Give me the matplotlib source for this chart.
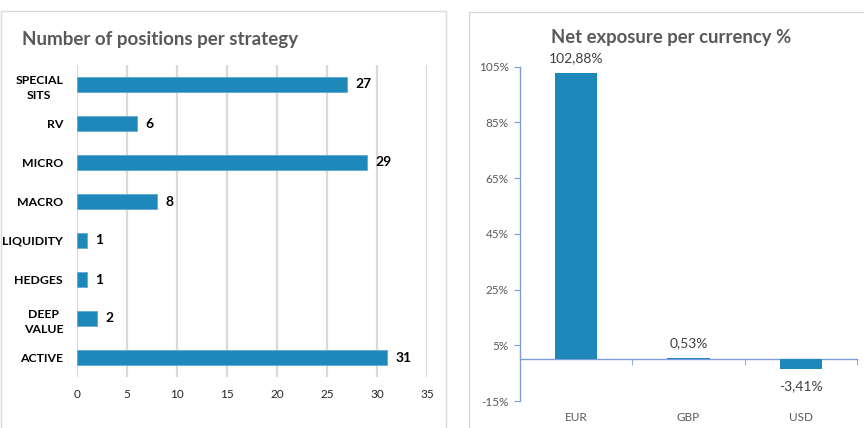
import matplotlib
matplotlib.use("Agg")
import matplotlib.pyplot as plt
from matplotlib.patches import Rectangle

plt.rcParams['font.family'] = ['Lato', 'DejaVu Sans']

# ---- data ----
strategies = ["ACTIVE", "DEEP\nVALUE", "HEDGES", "LIQUIDITY", "MACRO", "MICRO", "RV", "SPECIAL\nSITS"]
positions = [31, 2, 1, 1, 8, 29, 6, 27]
x_ticks_left = [0, 5, 10, 15, 20, 25, 30, 35]

currencies = ["EUR", "GBP", "USD"]
exposure = [102.88, 0.53, -3.41]
y_ticks_right = [-15, 5, 25, 45, 65, 85, 105]

BAR = "#1F88BA"
W, H = 864, 428
fig = plt.figure(figsize=(W / 100, H / 100), dpi=100)

# panel borders
fig.patches.append(Rectangle((1 / W, -0.01), 445 / W, 1 - 11 / H + 0.01, transform=fig.transFigure,
                             fill=False, edgecolor="#D9D9D9", lw=1))
fig.patches.append(Rectangle((469 / W, -0.01), 400 / W, 1 - 12 / H + 0.01, transform=fig.transFigure,
                             fill=False, edgecolor="#D9D9D9", lw=1))

# ---- left chart ----
ax1 = fig.add_axes([77 / W, 1 - 377 / H, 350 / W, 312 / H])
ypos = list(range(len(strategies)))
ax1.barh(ypos, positions, height=0.36, color=BAR, edgecolor="#5FAAD3", linewidth=0.6, zorder=3)
ax1.set_xlim(0, 35)
ax1.set_ylim(-0.5, len(strategies) - 0.5)
ax1.set_xticks(x_ticks_left)
ax1.set_yticks(ypos, labels=strategies)
for lab in ax1.get_yticklabels():
    lab.set_multialignment("center")
    lab.set_fontweight("bold")
    lab.set_linespacing(1.5)
ax1.tick_params(axis="y", length=0, pad=10, labelsize=8.8, labelcolor="#000000")
ax1.tick_params(axis="x", length=0, pad=9, labelsize=8.5, labelcolor="#262626")
for s in ax1.spines.values():
    s.set_visible(False)
ax1.grid(axis="x", color="#D9D9D9", lw=1.6, zorder=0)
ax1.set_axisbelow(True)
for y, v in zip(ypos, positions):
    ax1.annotate(str(v), (v, y), xytext=(6, 0), textcoords="offset points",
                 ha="left", va="center", fontsize=10, fontweight="bold", color="#000000")
fig.text(22 / W, 1 - 40 / H, "Number of positions per strategy", ha="left", va="center",
         fontsize=13.5, fontweight="bold", color="#595959")

# ---- right chart ----
AXC = "#7C9CDB"
ax2 = fig.add_axes([520 / W, 1 - 401 / H, 337 / W, 334.3 / H])
xpos = list(range(len(currencies)))
ax2.bar(xpos, exposure, width=0.375, color=BAR, linewidth=0, zorder=3)
ax2.set_xlim(-0.5, len(currencies) - 0.5)
ax2.set_ylim(-15, 105)
ax2.set_yticks(y_ticks_right, labels=[f"{t}%" for t in y_ticks_right])
ax2.set_xticks(xpos, labels=currencies)
ax2.set_xticks([i - 0.5 for i in range(len(currencies) + 1)], minor=True)
for side in ("top", "right"):
    ax2.spines[side].set_visible(False)
ax2.spines["left"].set_color(AXC)
ax2.spines["bottom"].set_color(AXC)
ax2.spines["bottom"].set_position(("data", 0))
ax2.spines["left"].set_linewidth(1)
ax2.spines["bottom"].set_linewidth(1)
ax2.tick_params(axis="y", direction="out", length=4, color=AXC, labelsize=8.5, labelcolor="#595959", pad=4)
ax2.tick_params(axis="x", which="major", length=0, labelsize=8.5, labelcolor="#595959", pad=38)
ax2.tick_params(axis="x", which="minor", direction="out", length=4, color=AXC)
for x, v in zip(xpos, exposure):
    txt = f"{v:.2f}".replace(".", ",") + "%"
    if v >= 0:
        ax2.annotate(txt, (x, v), xytext=(0, 6), textcoords="offset points",
                     ha="center", va="bottom", fontsize=10, color="#404040")
    else:
        ax2.annotate(txt, (x, v), xytext=(0, -8), textcoords="offset points",
                     ha="center", va="top", fontsize=10, color="#404040")
fig.text(671 / W, 1 - 37 / H, "Net exposure per currency %", ha="center", va="center",
         fontsize=13.3, fontweight="bold", color="#595959")

fig.savefig("out.png", dpi=100)
